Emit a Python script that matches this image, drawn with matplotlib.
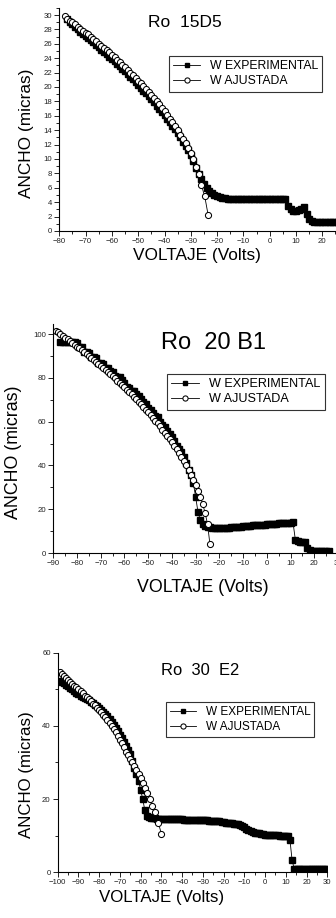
import matplotlib
matplotlib.use("Agg")
import matplotlib.pyplot as plt
from matplotlib.ticker import MultipleLocator

plt.rcParams["font.family"] = ["Liberation Sans", "DejaVu Sans"]

# ---- Ro 15D5 ----
v_exp_15d5 = [-77, -76, -75, -74, -73, -72, -71, -70, -69, -68, -67, -66, -65, -64, -63, -62, -61, -60,
              -59, -58, -57, -56, -55, -54, -53, -52, -51, -50, -49, -48, -47, -46, -45, -44, -43, -42,
              -41, -40, -39, -38, -37, -36, -35, -34, -33, -32, -31, -30, -29, -28, -27, -26, -25, -24,
              -23, -22, -21, -20, -19, -18, -17, -16, -15, -14, -13, -12, -11, -10, -9, -8, -7, -6,
              -5, -4, -3, -2, -1, 0, 1, 2, 3, 4, 5, 6, 7, 8, 9, 10, 11, 12, 13, 14, 15, 16, 17, 18,
              19, 20, 21, 22, 23, 24, 25, 26, 27, 28]
w_exp_15d5 = [29.4, 29.0, 28.7, 28.4, 28.0, 27.7, 27.4, 27.1, 26.8, 26.5, 26.2, 25.9, 25.5, 25.2, 24.9,
              24.6, 24.2, 23.9, 23.6, 23.2, 22.9, 22.5, 22.2, 21.8, 21.4, 21.1, 20.7, 20.3, 19.9, 19.5,
              19.1, 18.7, 18.3, 17.9, 17.4, 17.0, 16.5, 16.1, 15.6, 15.1, 14.6, 14.1, 13.6, 13.0, 12.4,
              11.8, 11.2, 10.5, 9.7, 8.8, 7.9,
              7.2, 6.5, 6.0, 5.6, 5.3, 5.0, 4.8, 4.7, 4.6, 4.55,
              4.5, 4.5, 4.5, 4.5, 4.5, 4.5, 4.5, 4.5, 4.5, 4.5, 4.5, 4.5, 4.5, 4.5, 4.5, 4.5, 4.5, 4.5,
              4.5, 4.5, 4.5, 4.5, 4.5,
              3.5, 3.0, 2.8, 2.75, 2.85, 3.1, 3.35, 2.3, 1.6, 1.4, 1.3,
              1.25, 1.25, 1.25, 1.25, 1.25, 1.25, 1.25, 1.25, 1.25, 1.25, 1.25]
v_fit_15d5 = [-78, -77, -76, -75, -74, -73, -72, -71, -70, -69, -68, -67, -66, -65, -64, -63, -62, -61,
              -60, -59, -58, -57, -56, -55, -54, -53, -52, -51, -50, -49, -48, -47, -46, -45, -44, -43,
              -42, -41, -40, -39, -38, -37, -36, -35, -34, -33, -32, -31, -30, -29, -28, -27, -26,
              -24.7, -23.4]
w_fit_15d5 = [29.8, 29.5, 29.2, 29.0, 28.7, 28.4, 28.1, 27.8, 27.5, 27.3, 27.0, 26.7, 26.4, 26.0, 25.7,
              25.4, 25.1, 24.8, 24.5, 24.1, 23.8, 23.5, 23.1, 22.8, 22.4, 22.0, 21.7, 21.3, 20.9, 20.5,
              20.1, 19.7, 19.3, 18.9, 18.5, 18.0, 17.6, 17.1, 16.6, 16.1, 15.6, 15.1, 14.6, 14.0, 13.4,
              12.8, 12.2, 11.5, 10.8, 10.0, 8.9, 7.9, 6.4, 4.8, 2.2]

# ---- Ro 20 B1 ----
v_exp_20b1 = [-87, -86, -85, -84, -83, -82, -81, -80, -79, -78, -77, -76, -75, -74, -73, -72, -71, -70,
              -69, -68, -67, -66, -65, -64, -63, -62, -61, -60, -59, -58, -57, -56, -55, -54, -53, -52,
              -51, -50, -49, -48, -47, -46, -45, -44, -43, -42, -41, -40, -39, -38, -37, -36, -35, -34,
              -33, -32, -31, -30, -29, -28, -27, -26, -25, -24, -23, -22, -21, -20, -19, -18, -17, -16,
              -15, -14, -13, -12, -11, -10, -9, -8, -7, -6, -5, -4, -3, -2, -1, 0, 1, 2, 3, 4, 5, 6,
              7, 8, 9, 10, 11, 12, 13, 14, 15, 16, 17, 18, 19, 20, 21, 22, 23, 24, 25, 26]
w_exp_20b1 = [96.5, 96.5, 96.5, 96.5, 96.5, 96.5, 96.5, 96.0,
              94.0, 94.0, 92.0, 92.0, 91.5, 89.5, 89.5, 89.0, 87.0, 87.0,
              86.5, 84.5, 84.5, 83.0, 82.5, 81.0, 80.5, 80.5, 79.0, 77.5,
              76.0, 75.5, 74.0, 74.0, 72.5, 71.5, 70.5, 69.0, 68.0, 66.0,
              65.5, 64.0, 62.5, 62.0, 60.0, 58.5, 57.5, 55.5, 54.5, 53.0,
              51.0, 49.0, 47.5, 46.0, 44.0, 41.0, 38.0, 35.5, 32.0, 25.5,
              18.5, 15.0, 13.2, 12.5, 12.0,
              11.8, 11.6, 11.5, 11.4, 11.4, 11.4, 11.5, 11.5, 11.6, 11.7,
              11.8, 11.9, 12.0, 12.1, 12.2, 12.3, 12.4, 12.5, 12.6, 12.7,
              12.8, 12.9, 12.9, 13.0, 13.1, 13.2, 13.3, 13.3, 13.4, 13.5,
              13.6, 13.7, 13.7, 13.8, 13.9, 14.0,
              6.0, 5.5, 5.2, 5.0, 4.8, 2.2, 1.2, 1.1, 1.1, 1.1, 1.1, 1.1, 1.1, 1.1, 1.1]
v_fit_20b1 = [-89, -88, -87, -86, -85, -84, -83, -82, -81, -80, -79, -78, -77, -76, -75, -74, -73, -72,
              -71, -70, -69, -68, -67, -66, -65, -64, -63, -62, -61, -60, -59, -58, -57, -56, -55, -54,
              -53, -52, -51, -50, -49, -48, -47, -46, -45, -44, -43, -42, -41, -40, -39, -38, -37, -36,
              -35, -34, -33, -32, -31, -30, -29, -28, -27, -26, -25, -24]
w_fit_20b1 = [101.6, 100.8, 100.0, 99.2, 98.4, 97.6, 96.8, 96.0, 95.1, 94.3,
              93.5, 92.6, 91.7, 90.9, 90.0, 89.1, 88.2, 87.3, 86.4, 85.5,
              84.6, 83.6, 82.7, 81.7, 80.7, 79.7, 78.7, 77.7, 76.7, 75.6,
              74.6, 73.5, 72.4, 71.3, 70.2, 69.1, 67.9, 66.7, 65.5, 64.3,
              63.1, 61.8, 60.5, 59.2, 57.8, 56.4, 55.0, 53.6, 52.1, 50.5,
              48.9, 47.3, 45.6, 43.8, 41.9, 40.0, 38.0, 35.8, 33.5, 31.1,
              28.4, 25.5, 22.2, 18.2, 13.2, 4.0]

# ---- Ro 30 E2 ----
v_exp_30e2 = [-99, -98, -97, -96, -95, -94, -93, -92, -91, -90, -89, -88, -87, -86, -85, -84, -83, -82,
              -81, -80, -79, -78, -77, -76, -75, -74, -73, -72, -71, -70, -69, -68, -67, -66, -65, -64,
              -63, -62, -61, -60, -59, -58, -57, -56, -55, -54, -53, -52, -51, -50, -49, -48, -47, -46,
              -45, -44, -43, -42, -41, -40, -39, -38, -37, -36, -35, -34, -33, -32, -31, -30, -29, -28,
              -27, -26, -25, -24, -23, -22, -21, -20, -19, -18, -17, -16, -15, -14, -13, -12, -11, -10,
              -9, -8, -7, -6, -5, -4, -3, -2, -1, 0, 1, 2, 3, 4, 5, 6, 7, 8, 9, 10, 11, 12, 13, 14,
              15, 16, 17, 18, 19, 20, 21, 22, 23, 24, 25, 26, 27, 28, 29, 30]
w_exp_30e2 = [52.4, 52.0, 51.6, 51.2, 50.8, 50.4, 50.0, 49.5, 49.0, 48.6,
              48.3, 48.0, 47.6, 47.3, 47.0, 46.6, 46.2, 45.8, 45.3, 44.8,
              44.3, 43.8, 43.2, 42.6, 41.9, 41.1, 40.3, 39.5, 38.6, 37.6,
              36.6, 35.7, 34.6, 33.5, 32.3, 30.5, 28.5, 26.8, 25.0, 22.5,
              20.0, 17.0, 15.3, 15.0, 14.8, 14.7, 14.7, 14.6, 14.6, 14.6,
              14.6, 14.6, 14.6, 14.6, 14.5, 14.5, 14.5, 14.5, 14.5, 14.5,
              14.4, 14.4, 14.4, 14.4, 14.4, 14.3, 14.3, 14.3, 14.3, 14.2,
              14.2, 14.2, 14.1, 14.1, 14.0, 14.0, 13.9, 13.9, 13.8, 13.8,
              13.6, 13.5, 13.5, 13.4, 13.3, 13.2, 13.1, 12.9, 12.6, 12.3,
              11.9, 11.5, 11.2, 11.0, 10.8, 10.7, 10.6, 10.5, 10.4, 10.3,
              10.2, 10.2, 10.2, 10.1, 10.1, 10.1, 10.0, 10.0, 10.0, 9.9,
              9.8, 8.8, 3.4, 1.0, 1.0, 1.0, 1.0, 1.0, 1.0, 1.0,
              1.0, 1.0, 1.0, 1.0, 1.0, 1.0, 1.0, 1.0, 1.0, 1.0]
v_fit_30e2 = [-99, -98, -97, -96, -95, -94, -93, -92, -91, -90, -89, -88, -87, -86, -85, -84, -83, -82,
              -81, -80, -79, -78, -77, -76, -75, -74, -73, -72, -71, -70, -69, -68, -67, -66, -65, -64,
              -63, -62, -61, -60, -59, -58, -57, -55.7, -54.4, -53.1, -51.5, -50]
w_fit_30e2 = [54.6, 54.1, 53.6, 53.0, 52.5, 52.0, 51.5, 51.0, 50.5, 50.0,
              49.5, 48.9, 48.3, 47.8, 47.3, 46.7, 46.1, 45.6, 45.0, 44.4,
              43.8, 43.1, 42.4, 41.6, 40.8, 40.0, 39.1, 38.2, 37.2, 36.2,
              35.2, 34.1, 33.0, 32.0, 31.0, 30.0, 29.0, 27.9, 26.8, 25.7,
              24.4, 23.0, 21.8, 20.0, 18.2, 16.4, 13.6, 10.5]

labels = ["W EXPERIMENTAL", "W AJUSTADA"]


def draw_panel(fig, rect, v_exp, w_exp, v_fit, w_fit, title, xlim, ylim, ymaj, ymin,
               title_xy, title_size, leg_xy, leg_size, xlab_xy, ylab_xy, lab_size):
    ax = fig.add_axes(rect)
    ax.plot(v_exp, w_exp, color="black", lw=0.6, marker="s", ms=4.0, mfc="black",
            mec="black", label=labels[0])
    ax.plot(v_fit, w_fit, color="black", lw=0.6, marker="o", ms=4.4, mfc="white",
            mec="black", mew=0.75, label=labels[1])
    ax.set_xlim(*xlim)
    ax.set_ylim(*ylim)
    for side in ("top", "right"):
        ax.spines[side].set_visible(False)
    for side in ("left", "bottom"):
        ax.spines[side].set_linewidth(0.8)
    ax.xaxis.set_major_locator(MultipleLocator(10))
    ax.xaxis.set_minor_locator(MultipleLocator(5))
    ax.yaxis.set_major_locator(MultipleLocator(ymaj))
    ax.yaxis.set_minor_locator(MultipleLocator(ymin))
    ax.tick_params(which="major", direction="out", length=3.5, width=0.6, labelsize=5.6,
                   pad=1.5, colors="black", labelcolor="#222222")
    ax.tick_params(which="minor", direction="out", length=2, width=0.6)

    ax.text(title_xy[0], title_xy[1], title, transform=ax.transAxes, ha="center", va="center",
            fontsize=title_size)
    leg = ax.legend(loc="upper left", bbox_to_anchor=leg_xy, borderaxespad=0, fontsize=leg_size,
                    handlelength=2.2, handletextpad=0.8, labelspacing=0.25, borderpad=0.35,
                    fancybox=False, framealpha=1, edgecolor="#333333", markerscale=0.85)
    leg.get_frame().set_linewidth(0.8)

    ax.set_xlabel("VOLTAJE (Volts)", fontsize=lab_size)
    ax.set_ylabel("ANCHO (micras)", fontsize=lab_size)
    ax.xaxis.set_label_coords(*xlab_xy)
    ax.yaxis.set_label_coords(*ylab_xy)
    return ax


fig = plt.figure(figsize=(3.36, 9.18), dpi=100)

draw_panel(fig, [0.1765, 0.7484, 0.861, 0.2431], v_exp_15d5, w_exp_15d5, v_fit_15d5, w_fit_15d5,
           "Ro  15D5", (-80, 30), (0, 31), 2, 1,
           (0.435, 0.932), 12.5, (0.379, 0.784), 8.8, (0.476, -0.076), (-0.0875, 0.439), 12.4)

draw_panel(fig, [0.1586, 0.3976, 0.8476, 0.2495], v_exp_20b1, w_exp_20b1, v_fit_20b1, w_fit_20b1,
           "Ro  20 B1", (-90, 30), (0, 104.6), 20, 10,
           (0.561, 0.917), 17, (0.399, 0.782), 9.1, (0.526, -0.1135), (-0.110, 0.441), 12.8)

draw_panel(fig, [0.1717, 0.0498, 0.8024, 0.2392], v_exp_30e2, w_exp_30e2, v_fit_30e2, w_fit_30e2,
           "Ro  30  E2", (-100, 30), (0, 60), 20, 10,
           (0.528, 0.917), 11.9, (0.402, 0.776), 8.5, (0.387, -0.081), (-0.088, 0.443), 12.2)

fig.savefig("out.png", dpi=100)
